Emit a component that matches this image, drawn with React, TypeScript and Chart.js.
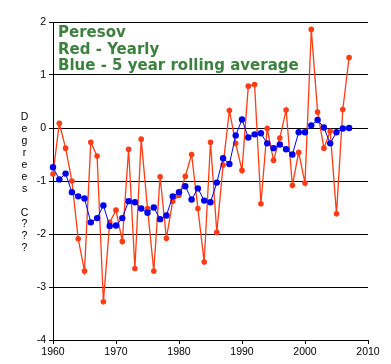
import React, { useEffect, useRef } from "react";
import { Chart, registerables } from "chart.js";

Chart.register(...registerables);

const years = [
  1960, 1961, 1962, 1963, 1964, 1965, 1966, 1967, 1968, 1969,
  1970, 1971, 1972, 1973, 1974, 1975, 1976, 1977, 1978, 1979,
  1980, 1981, 1982, 1983, 1984, 1985, 1986, 1987, 1988, 1989,
  1990, 1991, 1992, 1993, 1994, 1995, 1996, 1997, 1998, 1999,
  2000, 2001, 2002, 2003, 2004, 2005, 2006, 2007,
];

const yearly = [
  -0.87, 0.09, -0.38, -1.0, -2.09, -2.7, -0.27, -0.53, -3.28, -1.78,
  -1.55, -2.14, -0.4, -2.65, -0.21, -1.52, -2.7, -0.92, -2.08, -1.38,
  -1.27, -0.91, -0.5, -1.52, -2.53, -0.27, -1.97, -0.7, 0.33, -0.29,
  -0.8, 0.79, 0.82, -1.43, -0.01, -0.61, -0.19, 0.34, -1.08, -0.46,
  -1.04, 1.86, 0.3, -0.38, -0.06, -1.62, 0.35, 1.33,
];

const rolling5 = [
  -0.74, -0.97, -0.86, -1.21, -1.29, -1.33, -1.78, -1.7, -1.46, -1.85,
  -1.84, -1.7, -1.38, -1.4, -1.52, -1.6, -1.5, -1.72, -1.65, -1.29,
  -1.21, -1.1, -1.35, -1.14, -1.37, -1.4, -1.03, -0.57, -0.68, -0.14,
  0.16, -0.18, -0.12, -0.1, -0.29, -0.38, -0.31, -0.4, -0.5, -0.08,
  -0.08, 0.05, 0.15, 0.01, -0.29, -0.08, -0.01, 0.0,
];

const titleLines = ["Peresov", "Red - Yearly", "Blue - 5 year rolling average"];
const yAxisLetters = ["D", "e", "g", "r", "e", "e", "s", "", "C", "?", "?", "?"];
const xTickMin = 1960;
const xTickMax = 2010;
const yTickMin = -4;
const yTickMax = 2;

const tickFont = { family: "'Liberation Sans', Arial, sans-serif", size: 10.5 };

const overlayPlugin = {
  id: "overlay",
  beforeDatasetsDraw(chart: any) {
    const { ctx, chartArea, scales } = chart;
    const y0 = Math.round(scales.y.getPixelForValue(0)) + 0.5;
    ctx.save();
    ctx.strokeStyle = "#000";
    ctx.lineWidth = 1;
    ctx.setLineDash([]);
    ctx.beginPath();
    ctx.moveTo(chartArea.left, y0);
    ctx.lineTo(chartArea.right, y0);
    ctx.stroke();
    ctx.restore();
  },
  afterDraw(chart: any) {
    const { ctx, chartArea } = chart;
    ctx.save();
    ctx.fillStyle = "#3d8040";
    ctx.font = "bold 15px 'DejaVu Sans', sans-serif";
    ctx.textBaseline = "alphabetic";
    ctx.textAlign = "left";
    titleLines.forEach((t, i) => {
      ctx.fillText(t, chartArea.left + 5, chartArea.top + 15 + i * 16.5);
    });
    ctx.fillStyle = "#000";
    ctx.font = "10.5px 'Liberation Sans', Arial, sans-serif";
    ctx.textAlign = "center";
    ctx.textBaseline = "middle";
    yAxisLetters.forEach((l, i) => {
      if (l) ctx.fillText(l, 24.5, 117.5 + i * 11.9);
    });
    ctx.restore();
  },
};

export default function App() {
  const ref = useRef<HTMLCanvasElement | null>(null);
  useEffect(() => {
    if (!ref.current) return;
    const chart = new Chart(ref.current, {
      type: "line",
      data: {
        datasets: [
          {
            label: "5 year rolling average",
            data: years.map((x, i) => ({ x, y: rolling5[i] })),
            borderColor: "#0000ee",
            backgroundColor: "#0000ee",
            borderWidth: 1,
            pointRadius: 3.2,
            pointBorderWidth: 0,
            tension: 0,
            order: 0,
            clip: false,
          },
          {
            label: "Yearly",
            data: years.map((x, i) => ({ x, y: yearly[i] })),
            borderColor: "#ff3c14",
            backgroundColor: "#ff3c14",
            borderWidth: 1.3,
            pointRadius: 2.8,
            pointBorderWidth: 0,
            tension: 0,
            order: 1,
            clip: false,
          },
        ],
      },
      options: {
        animation: false,
        responsive: false,
        maintainAspectRatio: false,
        layout: { padding: { top: 22, right: 23, left: 0, bottom: 0 } },
        plugins: { legend: { display: false }, tooltip: { enabled: false } },
        scales: {
          x: {
            type: "linear",
            min: xTickMin,
            max: xTickMax,
            afterFit: (s: any) => {
              s.height = 24;
            },
            ticks: {
              stepSize: 10,
              color: "#000",
              font: tickFont,
              padding: 2,
              maxRotation: 0,
              callback: (v: any) => String(v),
            },
            grid: {
              drawOnChartArea: false,
              drawTicks: true,
              tickLength: 4,
              color: "#000",
              tickColor: "#000",
            },
            border: { display: true, color: "#000", width: 1 },
          },
          y: {
            type: "linear",
            min: yTickMin,
            max: yTickMax,
            afterFit: (s: any) => {
              s.width = 53;
            },
            ticks: {
              stepSize: 1,
              color: "#000",
              font: tickFont,
              padding: 3,
              callback: (v: any) => String(v),
            },
            grid: {
              drawOnChartArea: true,
              drawTicks: true,
              tickLength: 4,
              color: (c: any) =>
                c.tick && (c.tick.value === 0 || c.tick.value === yTickMin) ? "rgba(0,0,0,0)" : "#000",
              tickColor: "#000",
              borderDash: [1, 1],
              tickBorderDash: [],
            },
            border: { display: true, color: "#000", width: 1 },
          },
        },
      },
      plugins: [overlayPlugin],
    });
    return () => chart.destroy();
  }, []);
  return (
    <div style={{ position: "fixed", left: 0, top: 0, width: 391, height: 364, background: "#fff" }}>
      <canvas ref={ref} width={391} height={364} style={{ width: 391, height: 364, display: "block" }} />
    </div>
  );
}
